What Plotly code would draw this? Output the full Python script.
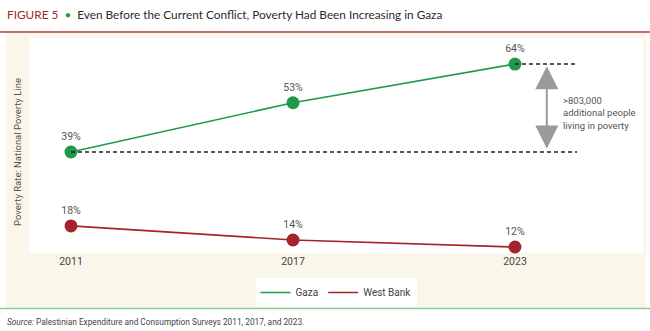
import plotly.graph_objects as go

years = [2011, 2017, 2023]
gaza = [39, 53, 64]
west_bank = [18, 14, 12]
gaza_labels = ["39%", "53%", "64%"]
wb_labels = ["18%", "14%", "12%"]
tick_labels = ["2011", "2017", "2023"]

GREEN = "#1E9A4B"
RED = "#A3252B"
NARROW = "Roboto, sans-serif"

W, H = 650, 331
L, R, T, B = 29, 643, 38, 253  # plot area in px


def px(xp):
    return (xp - L) / (R - L)


def py(yp):
    return (B - yp) / (B - T)


fig = go.Figure()

fig.add_trace(go.Scatter(
    x=years, y=gaza, mode="lines+markers+text", text=gaza_labels,
    textposition="top center", textfont=dict(family=NARROW, size=10.5, color="#555"),
    line=dict(color=GREEN, width=1.6), marker=dict(color=GREEN, size=13),
    showlegend=False, cliponaxis=False))
fig.add_trace(go.Scatter(
    x=years, y=west_bank, mode="lines+markers+text", text=wb_labels,
    textposition="top center", textfont=dict(family=NARROW, size=10.5, color="#555"),
    line=dict(color=RED, width=1.6), marker=dict(color=RED, size=13),
    showlegend=False, cliponaxis=False))
# legend entries
fig.add_trace(go.Scatter(x=[None], y=[None], mode="lines", name="Gaza",
                         line=dict(color=GREEN, width=1.6)))
fig.add_trace(go.Scatter(x=[None], y=[None], mode="lines", name="West Bank",
                         line=dict(color=RED, width=1.6)))

shapes = [
    # beige panel
    dict(type="rect", xref="paper", yref="paper", x0=px(6), x1=px(646), y0=py(308), y1=py(33),
         fillcolor="#FAF6EA", line=dict(width=0), layer="below"),
    # white plot area
    dict(type="rect", xref="paper", yref="paper", x0=0, x1=1, y0=0, y1=1,
         fillcolor="white", line=dict(width=0), layer="below"),
    # red rule under title
    dict(type="line", xref="paper", yref="paper", x0=px(0), x1=px(650), y0=py(32), y1=py(32),
         line=dict(color="#B0413E", width=1.5)),
    # green rule at bottom
    dict(type="line", xref="paper", yref="paper", x0=px(0), x1=px(650), y0=py(308.5), y1=py(308.5),
         line=dict(color="#8CCB9F", width=1.5)),
    # dashed reference lines
    dict(type="line", xref="x", yref="y", x0=years[0], x1=2024.68, y0=gaza[0], y1=gaza[0],
         line=dict(color="#222", width=1.4, dash="4px,3px")),
    dict(type="line", xref="x", yref="y", x0=years[-1], x1=2024.68, y0=gaza[-1], y1=gaza[-1],
         line=dict(color="#222", width=1.4, dash="4px,3px")),
]

annotations = [
    dict(xref="paper", yref="paper", x=px(5), y=py(15), xanchor="left", yanchor="middle",
         showarrow=False,
         text="<span style='color:#9E2A2B'>FIGURE 5</span>  <span style='color:#1E9A4B'>•</span>  "
              "<span style='color:#2B2B2B'>Even Before the Current Conflict, Poverty Had Been Increasing in Gaza</span>",
         font=dict(family="Lato, Open Sans, sans-serif", size=11.8)),
    dict(xref="paper", yref="paper", x=px(17), y=py(152), textangle=-90, showarrow=False,
         xanchor="center", yanchor="middle", text="Poverty Rate: National Poverty Line",
         font=dict(family=NARROW, size=9.5, color="#555")),
    # double arrow
    dict(xref="x", yref="y", axref="x", ayref="y", x=2023.86, y=gaza[-1] - 0.6,
         ax=2023.86, ay=gaza[0] + 0.6, text="", showarrow=True, arrowhead=2, startarrowhead=2,
         arrowside="end+start", arrowwidth=2, arrowsize=2.3, startarrowsize=2.3, arrowcolor="#9A9A9A"),
    dict(xref="paper", yref="paper", x=px(561), y=py(93), xanchor="left", yanchor="top",
         showarrow=False, align="left",
         text="&gt;803,000<br>additional people<br>living in poverty",
         font=dict(family=NARROW, size=9.5, color="#555")),
    dict(xref="paper", yref="paper", x=px(5), y=py(322), xanchor="left", yanchor="middle",
         showarrow=False,
         text="<i>Source:</i> Palestinian Expenditure and Consumption Surveys 2011, 2017, and 2023.",
         font=dict(family=NARROW, size=8.3, color="#444")),
]

fig.update_layout(
    width=W, height=H,
    margin=dict(l=L, r=W - R, t=T, b=H - B, pad=0),
    paper_bgcolor="white", plot_bgcolor="rgba(0,0,0,0)",
    shapes=shapes, annotations=annotations,
    xaxis=dict(range=[2009.865, 2026.46], tickvals=years, ticktext=tick_labels,
               showgrid=False, zeroline=False, showline=False, ticks="",
               tickfont=dict(family=NARROW, size=10.5, color="#444")),
    yaxis=dict(range=[10.3, 71.4], showticklabels=False, showgrid=False, zeroline=False,
               showline=False, ticks=""),
    legend=dict(orientation="h", x=0.5, xanchor="center", y=py(292.5), yanchor="middle",
                bgcolor="white", font=dict(family=NARROW, size=10, color="#444"),
                itemwidth=30, tracegroupgap=0),
    showlegend=True,
)

fig.write_html("out.html")
